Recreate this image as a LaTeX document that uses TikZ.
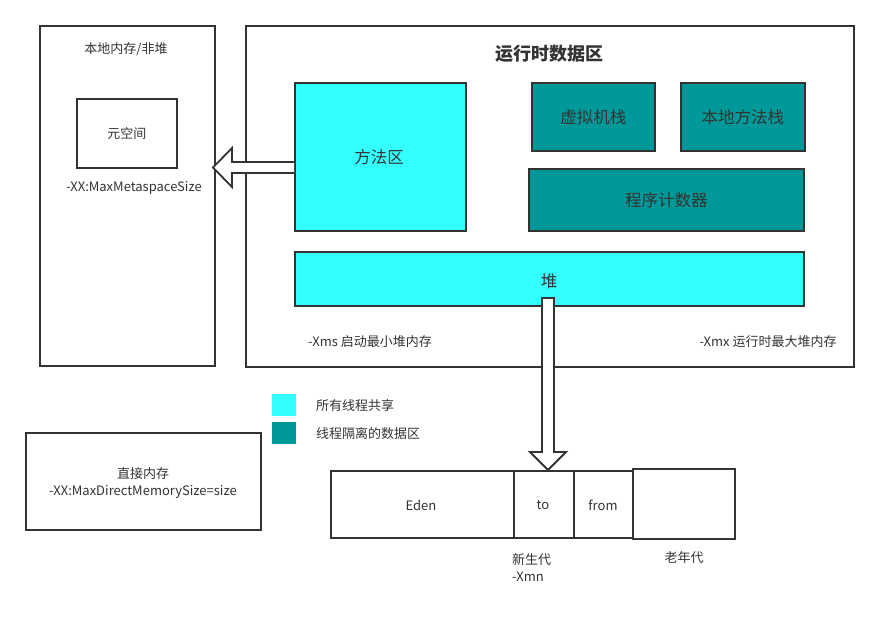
\documentclass[tikz,border=0pt]{standalone}
\usepackage{fontspec}
\setmainfont{Noto Sans CJK SC}
\usetikzlibrary{calc}
\definecolor{ink}{HTML}{333333}
\definecolor{shared}{HTML}{33FFFF}
\definecolor{private}{HTML}{009999}
\tikzset{
  box/.style={draw=ink, line width=1.5pt, rectangle, inner sep=0pt, anchor=north west},
  lbl/.style={text=ink, font=\fontsize{13}{15}\selectfont, inner sep=0pt},
  big/.style={text=ink, font=\fontsize{16.5}{18}\selectfont, inner sep=0pt},
  blockarrow/.style={draw=ink, fill=white, line width=1.8pt, line join=miter}
}
\begin{document}
\begin{tikzpicture}[x=1pt,y=-1pt]
\useasboundingbox (0,0) rectangle (877,622);
% left box
\node[box, minimum width=175, minimum height=340] (native) at (39,25) {};
\node[lbl] (nativet) at (126,49) {本地内存/非堆};
\node[box, minimum width=100, minimum height=69] (meta) at (76,98) {};
\node[lbl] at (meta.center) {元空间};
\node[lbl] (metat) at (134,188) {-XX:MaxMetaspaceSize};
% main box
\node[box, minimum width=608, minimum height=341] (rt) at (245,25) {};
\node[text=ink, font=\fontsize{18}{20}\selectfont\bfseries, inner sep=0pt] (rtt) at (549,54) {运行时数据区};
\node[box, fill=shared, minimum width=171, minimum height=148] (method) at (294,82) {};
\node[big] at (379,157) {方法区};
\node[box, fill=private, minimum width=123, minimum height=68] (vms) at (531,82) {};
\node[big] at (vms.center) {虚拟机栈};
\node[box, fill=private, minimum width=124, minimum height=68] (nms) at (680,82) {};
\node[big] at (nms.center) {本地方法栈};
\node[box, fill=private, minimum width=275, minimum height=62] (pc) at (528,168) {};
\node[big] at (pc.center) {程序计数器};
\node[box, fill=shared, minimum width=509, minimum height=54] (heap) at (294,251) {};
\node[big] at (549,281) {堆};
\node[lbl] (xms) at (370,342) {-Xms 启动最小堆内存};
\node[lbl] (xmx) at (768,342) {-Xmx 运行时最大堆内存};
% legend
\node[fill=shared, minimum width=24, minimum height=22, inner sep=0pt, anchor=north west] (leg1) at (272,394) {};
\node[fill=private, minimum width=24, minimum height=22, inner sep=0pt, anchor=north west] (leg2) at (272,422) {};
\node[lbl, anchor=west] at (316,406) {所有线程共享};
\node[lbl, anchor=west] at (316,434) {线程隔离的数据区};
% direct memory
\node[box, minimum width=235, minimum height=97] (direct) at (25,432) {};
\node[lbl] at (143,474) {直接内存};
\node[lbl] at (143,492) {-XX:MaxDirectMemorySize=size};
% generations
\node[box, minimum width=183, minimum height=67] (eden) at (330,470) {};
\node[lbl] at (421,505) {Eden};
\node[box, minimum width=60, minimum height=67] (to) at (513,470) {};
\node[lbl] at (543,505) {to};
\node[box, minimum width=59, minimum height=67] (from) at (573,470) {};
\node[lbl] at (603,505) {from};
\node[box, minimum width=102, minimum height=70] (old) at (632,468) {};
\node[lbl, anchor=west] at (512,560) {新生代};
\node[lbl, anchor=west] at (512,577) {-Xmn};
\node[lbl] at (684,558) {老年代};
% block arrows
\coordinate (ltip) at (213,167.5);
\draw[blockarrow] (method.west |- 0,162) -- (232,162) -- (232,148) -- (ltip) -- (232,187) -- (232,173) -- (method.west |- 0,173);
\coordinate (dtip) at (548,470);
\draw[blockarrow] (542,298) -- (542,452) -- (530,452) -- (dtip) -- (566,452) -- (554,452) -- (554,298) -- cycle;
\end{tikzpicture}
\end{document}
